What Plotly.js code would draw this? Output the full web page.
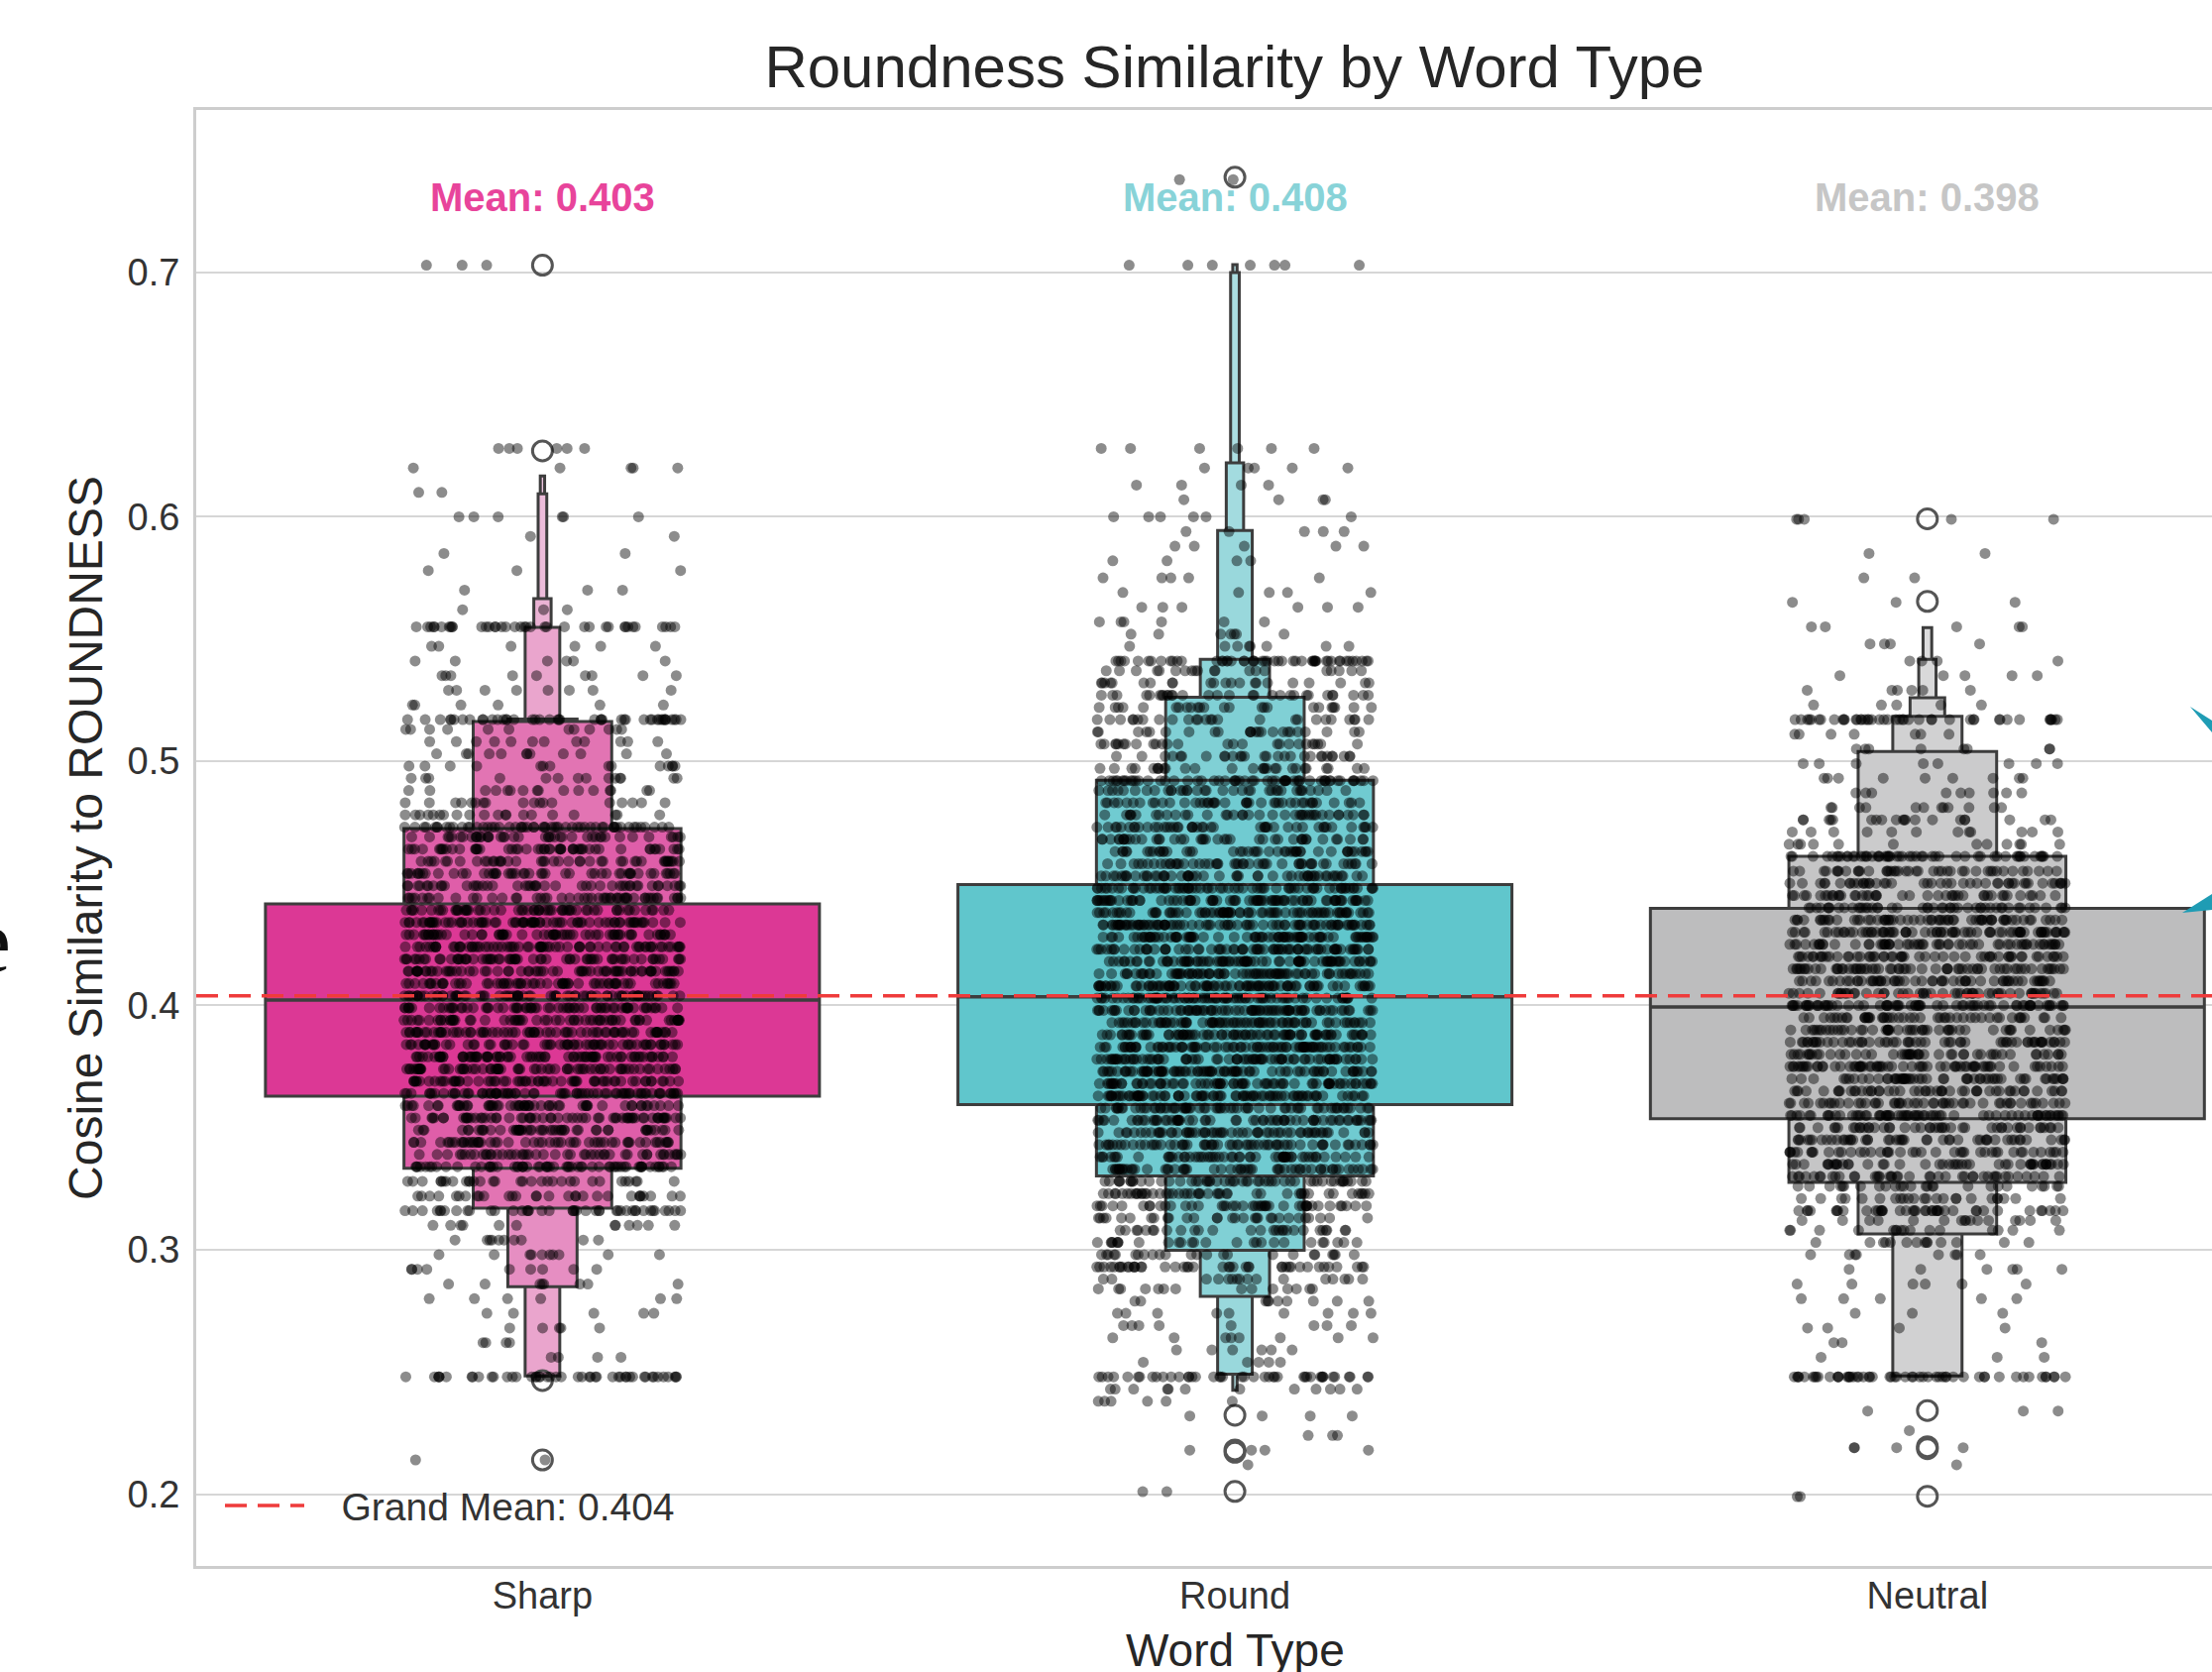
<!DOCTYPE html>
<html>
<head>
<meta charset="utf-8">
<script src="https://cdn.plot.ly/plotly-3.0.1.min.js"></script>
<style>
html,body{margin:0;padding:0;overflow:hidden;background:#ffffff;}
#chart{width:2232px;height:1687px;}
</style>
</head>
<body>
<div id="chart"></div>
<script>
// ---------------- DATA ----------------
const categories = ['Sharp', 'Round', 'Neutral'];
const groupMeans = [0.403, 0.408, 0.398];
const grandMean = 0.404;
const medians = [0.4022, 0.4035, 0.3994];

// letter-value box ends; index 0 = IQR, 1 = 1/8, 2 = 1/16, ...
const sharpLower   = [0.3629, 0.3334, 0.3170, 0.2849, 0.2484, 0.2484, 0.2484, 0.2484];
const sharpUpper   = [0.4416, 0.4724, 0.5162, 0.5172, 0.5548, 0.5665, 0.6094, 0.6167];
const roundLower   = [0.3594, 0.3302, 0.2998, 0.2809, 0.2491, 0.2491, 0.2491, 0.2425];
const roundUpper   = [0.4495, 0.4922, 0.5262, 0.5417, 0.5944, 0.6221, 0.7000, 0.7032];
const neutralLower = [0.3536, 0.3276, 0.3065, 0.2484, 0.2484, 0.2484, 0.2484];
const neutralUpper = [0.4397, 0.4610, 0.5039, 0.5183, 0.5259, 0.5417, 0.5546];

// boxen outliers
const sharpOutliers   = [0.703, 0.627, 0.2465, 0.214];
const roundOutliers   = [0.739, 0.2323, 0.2181, 0.2171, 0.2011];
const neutralOutliers = [0.5992, 0.5654, 0.2342, 0.2194, 0.2186, 0.1991];

// strip points: observed value rows and how many points sit on each
const sharpY = [0.214,0.248,0.256,0.262,0.268,0.274,0.280,0.286,0.292,0.298,0.304,0.310,0.316,0.322,0.328,0.334,
  0.339,0.344,0.349,0.354,0.359,0.364,0.369,0.374,0.379,0.384,0.389,0.394,0.399,0.404,0.409,0.414,0.419,0.424,0.429,0.434,0.439,0.444,0.449,0.454,0.459,0.464,0.469,0.473,
  0.478,0.483,0.488,0.493,0.498,0.503,0.508,0.513,0.517,0.523,0.529,0.535,0.541,0.547,0.555,0.562,0.570,0.578,0.585,0.592,0.600,0.610,0.620,0.628,0.703];
const sharpN = [2,46,4,4,5,5,6,8,9,10,10,12,42,30,32,60,
  48,53,50,62,56,70,62,67,73,64,70,62,67,70,62,67,64,70,62,73,59,50,45,48,42,50,42,56,
  20,18,16,14,14,12,12,12,44,6,8,9,6,6,38,3,3,3,2,2,6,2,5,6,3];

const roundY = [0.201,0.212,0.218,0.224,0.232,0.238,0.243,0.248,0.254,0.259,0.264,0.269,0.274,0.279,0.284,0.288,0.293,0.298,0.303,0.308,0.313,0.318,0.323,0.328,
  0.333,0.338,0.343,0.348,0.353,0.358,0.363,0.368,0.373,0.378,0.383,0.388,0.393,0.398,0.403,0.408,0.413,0.418,0.423,0.428,0.433,0.438,0.443,0.448,0.453,0.458,0.463,0.468,0.473,0.478,0.483,0.488,0.492,
  0.497,0.502,0.507,0.512,0.517,0.522,0.527,0.532,0.537,0.541,0.547,0.552,0.557,0.563,0.569,0.575,0.582,0.588,0.594,0.600,0.607,0.613,0.620,0.628,0.703,0.738];
const roundN = [2,1,4,3,4,6,12,42,5,6,8,8,9,10,14,16,42,24,26,28,30,44,48,52,
  56,56,59,59,62,64,78,73,81,76,84,77,73,81,78,84,76,81,73,78,84,76,78,70,53,48,45,42,45,39,42,36,56,
  28,28,26,24,26,24,30,22,20,50,8,7,6,6,5,5,4,5,5,6,4,4,5,6,7,2];

const neutralY = [0.199,0.212,0.219,0.226,0.234,0.248,0.256,0.262,0.268,0.274,0.280,0.286,0.292,0.298,0.303,0.308,0.312,0.316,0.321,0.326,
  0.330,0.335,0.340,0.345,0.350,0.355,0.360,0.365,0.370,0.375,0.380,0.385,0.390,0.395,0.400,0.405,0.410,0.415,0.420,0.425,0.430,0.435,0.440,0.445,0.450,0.455,0.461,
  0.466,0.471,0.476,0.481,0.487,0.493,0.499,0.505,0.511,0.517,0.523,0.529,0.535,0.541,0.548,0.555,0.565,0.575,0.585,0.599];
const neutralN = [2,1,4,1,3,54,3,3,4,3,5,6,6,8,14,16,16,40,24,26,
  42,45,42,48,45,64,50,48,53,64,48,56,50,48,67,53,56,62,53,59,70,62,48,42,45,42,54,
  12,12,20,12,9,9,8,8,7,44,5,6,5,4,4,5,3,2,2,5];

// ---------------- STYLE ----------------
const FONT = 'Liberation Sans, Arial, Helvetica, sans-serif';
const boxColors = [
  ['#dc3895','#df5ea9','#e274b3','#e68ec2','#eaa5cd','#ebb2d4','#ecbcda','#edc4de'],
  ['#60c6cc','#70cbd1','#80d0d5','#8dd4d8','#99d8dc','#a3dbdf','#acdfe2','#b3e1e4'],
  ['#bdbdbe','#c5c5c6','#cbcbcc','#d1d1d2','#d5d5d6','#d9d9da','#dcdcdd']
];
const labelColors = ['#e8449b', '#88d3d8', '#c6c6c6'];
const EDGE = '#3d3d3d';
const BASE_WIDTH = 0.8;
const JITTER = 0.2;
const X_RANGE = [-0.5, 2.411];
const Y_RANGE = [0.1706, 0.7665];

const lowers = [sharpLower, roundLower, neutralLower];
const uppers = [sharpUpper, roundUpper, neutralUpper];
const outliers = [sharpOutliers, roundOutliers, neutralOutliers];
const stripY = [sharpY, roundY, neutralY];
const stripN = [sharpN, roundN, neutralN];

// ---------------- TRACES ----------------
const traces = [];

// letter-value boxes: draw outermost (narrowest) first, IQR last
const bx = [], bbase = [], bh = [], bw = [], bc = [];
categories.forEach((cat, i) => {
  const lo = lowers[i], up = uppers[i];
  for (let k = lo.length - 1; k >= 0; k--) {
    bx.push(i);
    bbase.push(lo[k]);
    bh.push(up[k] - lo[k]);
    bw.push(BASE_WIDTH / Math.pow(2, k));
    bc.push(boxColors[i][k]);
  }
});
traces.push({
  type: 'bar', x: bx, y: bh, base: bbase, width: bw,
  marker: {color: bc, line: {color: EDGE, width: 3}},
  showlegend: false, hoverinfo: 'skip'
});

// medians
categories.forEach((cat, i) => {
  traces.push({
    type: 'scatter', mode: 'lines',
    x: [i - BASE_WIDTH / 2, i + BASE_WIDTH / 2], y: [medians[i], medians[i]],
    line: {color: EDGE, width: 3.5}, showlegend: false, hoverinfo: 'skip'
  });
});

// outliers
categories.forEach((cat, i) => {
  traces.push({
    type: 'scatter', mode: 'markers',
    x: outliers[i].map(() => i), y: outliers[i],
    marker: {symbol: 'circle-open', size: 20, color: '#555555', line: {width: 3, color: '#555555'}},
    showlegend: false, hoverinfo: 'skip'
  });
});

// strip points: horizontal jitter from a fixed integer hash (layout only, values untouched)
function spread(n) {
  let h = (n * 2654435761) >>> 0;
  h ^= h >>> 15; h = Math.imul(h, 2246822519) >>> 0;
  h ^= h >>> 13; h = Math.imul(h, 3266489917) >>> 0;
  h ^= h >>> 16;
  return (h >>> 0) / 4294967296;
}
categories.forEach((cat, i) => {
  const xs = [], ys = [];
  let k = 0;
  stripY[i].forEach((yv, j) => {
    for (let c = 0; c < stripN[i][j]; c++) {
      const u = spread(k + 1 + i * 10007);
      xs.push(i + (u - 0.5) * 2 * JITTER);
      ys.push(yv);
      k++;
    }
  });
  traces.push({
    type: 'scatter', mode: 'markers', x: xs, y: ys,
    marker: {color: 'rgba(0,0,0,0.45)', size: 11},
    showlegend: false, hoverinfo: 'skip'
  });
});

// grand mean line
traces.push({
  type: 'scatter', mode: 'lines',
  x: X_RANGE, y: [grandMean, grandMean],
  line: {color: '#ef3b3b', width: 3.5, dash: '22px,11px'},
  name: '\u00a0\u00a0\u00a0Grand Mean: ' + grandMean.toFixed(3),
  showlegend: true, hoverinfo: 'skip'
});

// ---------------- LAYOUT ----------------
const annotations = categories.map((cat, i) => ({
  x: i, y: 0.7307, xref: 'x', yref: 'y',
  text: '<b>Mean: ' + groupMeans[i].toFixed(3) + '</b>',
  showarrow: false, xanchor: 'center', yanchor: 'middle',
  font: {family: FONT, size: 40, color: labelColors[i]}
}));
// x-axis title, centred on the middle category as in the reference
annotations.push({
  x: 1, y: -0.0579, xref: 'x', yref: 'paper',
  text: 'Word Type', showarrow: false, xanchor: 'center', yanchor: 'middle',
  font: {family: FONT, size: 46, color: '#262626'}
});
annotations.push({
  x: -0.09095, y: 0.4295, xref: 'paper', yref: 'paper',
  text: 'e', showarrow: false, xanchor: 'right', yanchor: 'middle',
  font: {family: 'Liberation Serif, DejaVu Serif, serif', size: 90, color: '#111111'}
});

const layout = {
  width: 2232, height: 1687,
  margin: {l: 198, r: 0, t: 111, b: 107, pad: 0},
  paper_bgcolor: '#ffffff', plot_bgcolor: '#ffffff',
  font: {family: FONT, color: '#333333'},
  barmode: 'overlay',
  title: {
    text: 'Roundness Similarity by Word Type',
    font: {family: FONT, size: 60, color: '#262626'},
    x: 0.515, xref: 'paper', xanchor: 'center',
    y: 1 - 67 / 1687, yref: 'container', yanchor: 'middle'
  },
  xaxis: {
    range: X_RANGE, tickmode: 'array', tickvals: [0, 1, 2], ticktext: categories,
    showgrid: false, zeroline: false, showline: true, linecolor: '#cdcdcd', linewidth: 3, mirror: true,
    ticks: '', tickfont: {family: FONT, size: 38, color: '#333333'}, ticklabelstandoff: -6,
    automargin: false, fixedrange: true
  },
  yaxis: {
    range: Y_RANGE, tick0: 0, dtick: 0.1, tickformat: '.1f',
    showgrid: true, gridcolor: '#d6d6d6', gridwidth: 2,
    zeroline: false, showline: true, linecolor: '#cdcdcd', linewidth: 3, mirror: true,
    ticks: '', tickfont: {family: FONT, size: 38, color: '#333333'}, ticklabelstandoff: 6,
    title: {text: 'Cosine Similarity to ROUNDNESS', font: {family: FONT, size: 48, color: '#262626'}, standoff: 10},
    automargin: false, fixedrange: true
  },
  showlegend: true,
  legend: {
    x: 0.0118, y: 0.0415, xanchor: 'left', yanchor: 'middle',
    bgcolor: 'rgba(0,0,0,0)', borderwidth: 0,
    font: {family: FONT, size: 39, color: '#333333'}, itemwidth: 80
  },
  annotations: annotations,
  shapes: [
    {type: 'path', xref: 'paper', yref: 'paper', path: 'M 0.98918 0.59020 L 1.0 0.58067 L 1.0 0.57250 Z',
     fillcolor: '#1f9cb4', line: {width: 0}},
    {type: 'path', xref: 'paper', yref: 'paper', path: 'M 0.98525 0.44861 L 1.0 0.46154 L 1.0 0.45065 Z',
     fillcolor: '#1f9cb4', line: {width: 0}}
  ]
};

Plotly.newPlot('chart', traces, layout, {displayModeBar: false, staticPlot: true});
</script>
</body>
</html>
